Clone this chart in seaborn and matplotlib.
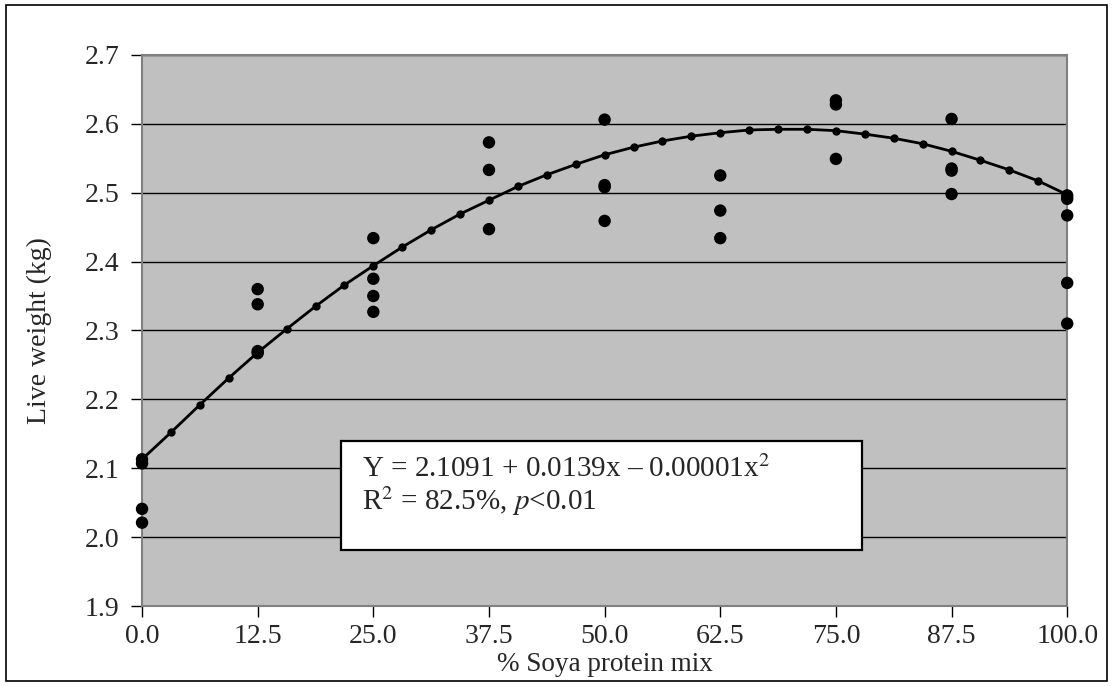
import matplotlib
matplotlib.use("Agg")
import matplotlib.pyplot as plt
import seaborn as sns
import pandas as pd
from matplotlib.patches import Rectangle

# Observed live weights per soya protein level
soya_pct = [0.0, 0.0, 0.0, 0.0,
            12.5, 12.5, 12.5, 12.5,
            25.0, 25.0, 25.0, 25.0,
            37.5, 37.5, 37.5,
            50.0, 50.0, 50.0, 50.0,
            62.5, 62.5, 62.5,
            75.0, 75.0, 75.0,
            87.5, 87.5, 87.5, 87.5,
            100.0, 100.0, 100.0, 100.0, 100.0]
live_weight = [2.113, 2.107, 2.041, 2.021,
               2.360, 2.338, 2.270, 2.267,
               2.434, 2.375, 2.350, 2.327,
               2.573, 2.533, 2.447,
               2.606, 2.511, 2.508, 2.459,
               2.525, 2.474, 2.434,
               2.634, 2.628, 2.549,
               2.607, 2.535, 2.532, 2.498,
               2.496, 2.491, 2.467, 2.369, 2.310]

# Fitted response curve values
fit_x = [0.0, 3.125, 6.25, 9.375, 12.5, 15.625, 18.75, 21.875, 25.0, 28.125,
         31.25, 34.375, 37.5, 40.625, 43.75, 46.875, 50.0, 53.125, 56.25,
         59.375, 62.5, 65.625, 68.75, 71.875, 75.0, 78.125, 81.25, 84.375,
         87.5, 90.625, 93.75, 96.875, 100.0]
fit_y = [2.113, 2.152, 2.192, 2.231, 2.268, 2.302, 2.335, 2.366, 2.394, 2.421,
         2.446, 2.469, 2.489, 2.509, 2.526, 2.541, 2.555, 2.566, 2.575,
         2.582, 2.587, 2.591, 2.592, 2.592, 2.590, 2.585, 2.579, 2.571,
         2.560, 2.547, 2.533, 2.517, 2.497]

x_ticks = [0.0, 12.5, 25.0, 37.5, 50.0, 62.5, 75.0, 87.5, 100.0]
y_ticks = [1.9, 2.0, 2.1, 2.2, 2.3, 2.4, 2.5, 2.6, 2.7]

obs = pd.DataFrame({"soya": soya_pct, "weight": live_weight})
fit = pd.DataFrame({"soya": fit_x, "weight": fit_y})

sns.set_theme(style="white")
plt.rcParams["font.family"] = ["Liberation Serif", "DejaVu Serif"]
plt.rcParams["mathtext.fontset"] = "stix"

fig = plt.figure(figsize=(11.14, 6.86), dpi=100)
ax = fig.add_axes([0.1275, 0.1166, 0.8305, 0.8034])
ax.set_facecolor("#C0C0C0")

sns.lineplot(data=fit, x="soya", y="weight", ax=ax, color="black", lw=2.0,
             marker="o", markersize=6, markeredgewidth=0, zorder=3)
sns.scatterplot(data=obs, x="soya", y="weight", ax=ax, color="black", s=80,
                edgecolor="none", zorder=4, clip_on=False)

ax.set_xlim(0, 100)
ax.set_ylim(1.9, 2.7)
ax.set_xticks(x_ticks)
ax.set_xticklabels([f"{v:.1f}" for v in x_ticks])
ax.set_yticks(y_ticks)
ax.set_yticklabels([f"{v:.1f}" for v in y_ticks])
ax.yaxis.grid(True, color="black", lw=1.0)
ax.xaxis.grid(False)
ax.set_axisbelow(True)
for s in ax.spines.values():
    s.set_color("#808080")
    s.set_linewidth(1.5)
ax.tick_params(axis="both", direction="out", length=8, width=1, color="black",
               labelsize=20, left=True, bottom=True)
ax.tick_params(axis="x", pad=5)
ax.tick_params(axis="y", pad=8)
ax.set_xlabel("% Soya protein mix", fontsize=19.5, labelpad=2)
ax.set_ylabel("Live weight (kg)", fontsize=20, labelpad=24)

# Equation box
box = Rectangle((21.5, 1.982), 56.3, 0.158, facecolor="white", edgecolor="black",
                lw=1.6, zorder=5)
ax.add_patch(box)
ax.text(23.8, 2.099, r"Y = 2.1091 + 0.0139x – 0.00001x$^{2}$", fontsize=21,
        zorder=6, va="center")
ax.text(23.8, 2.052, r"R$^{2}$ = 82.5%, $\it{p}$<0.01", fontsize=21,
        zorder=6, va="center")

# Outer chart border
fig.add_artist(Rectangle((0.005, 0.008), 0.989, 0.984, transform=fig.transFigure,
                         fill=False, edgecolor="black", lw=1.2))

fig.savefig("out.png", dpi=100)
